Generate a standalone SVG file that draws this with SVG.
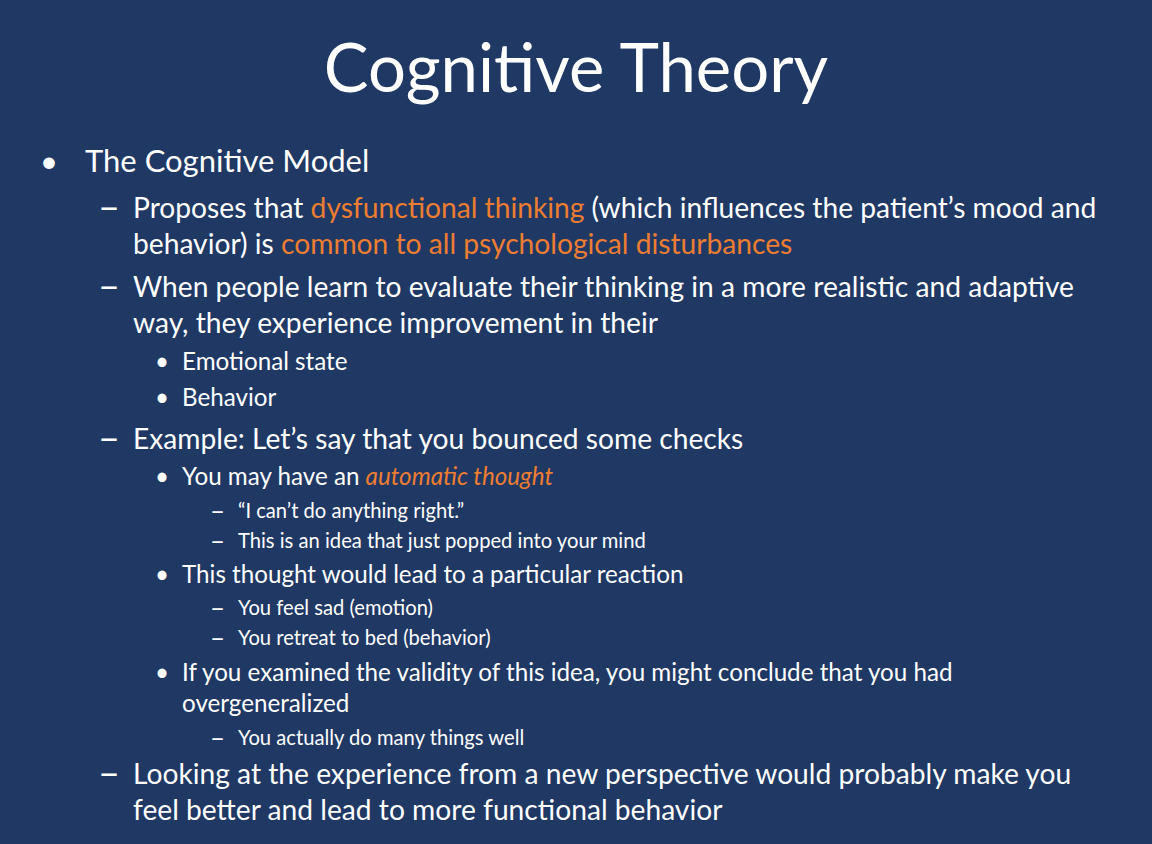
<svg xmlns="http://www.w3.org/2000/svg" width="1152" height="844" viewBox="0 0 1152 844">
<style>
text{font-family:Lato,"Open Sans",sans-serif;fill:#fff}
.t{font-size:67px}
.l1{font-size:31px}
.l2{font-size:28.2px}
.l3{font-size:24.2px}
.l4{font-size:20.2px}
.d2{font-size:38px}
.d4{font-size:26px}
.o{fill:#ED7D31}
</style>
<rect width="1152" height="844" fill="#203864"/>
<text class="t" x="576" y="92" text-anchor="middle">Cognitive Theory</text>
<text class="l1" x="40" y="172">•</text>
<text class="l1" x="85" y="172">The Cognitive Model</text>
<text class="d2" x="98" y="220">–</text>
<text class="l2" x="133" y="218">Proposes that <tspan class="o">dysfunctional thinking</tspan> (which influences the patient’s mood and</text>
<text class="l2" x="133" y="254">behavior) is <tspan class="o">common to all psychological disturbances</tspan></text>
<text class="d2" x="98" y="299">–</text>
<text class="l2" x="133" y="297">When people learn to evaluate their thinking in a more realistic and adaptive</text>
<text class="l2" x="133" y="333">way, they experience improvement in their</text>
<text class="l3" x="155" y="370">•</text>
<text class="l3" x="182" y="370">Emotional state</text>
<text class="l3" x="155" y="406">•</text>
<text class="l3" x="182" y="406">Behavior</text>
<text class="d2" x="98" y="451">–</text>
<text class="l2" x="133" y="449">Example: Let’s say that you bounced some checks</text>
<text class="l3" x="155" y="485">•</text>
<text class="l3" x="182" y="485">You may have an <tspan class="o" font-style="italic">automatic thought</tspan></text>
<text class="d4" x="210" y="520">–</text>
<text class="l4" x="238" y="518">“I can’t do anything right.”</text>
<text class="d4" x="210" y="550">–</text>
<text class="l4" x="238" y="548">This is an idea that just popped into your mind</text>
<text class="l3" x="155" y="583">•</text>
<text class="l3" x="182" y="583">This thought would lead to a particular reaction</text>
<text class="d4" x="210" y="617">–</text>
<text class="l4" x="238" y="615">You feel sad (emotion)</text>
<text class="d4" x="210" y="647">–</text>
<text class="l4" x="238" y="645">You retreat to bed (behavior)</text>
<text class="l3" x="155" y="681">•</text>
<text class="l3" x="182" y="681">If you examined the validity of this idea, you might conclude that you had</text>
<text class="l3" x="182" y="712">overgeneralized</text>
<text class="d4" x="210" y="747">–</text>
<text class="l4" x="238" y="745">You actually do many things well</text>
<text class="d2" x="98" y="786">–</text>
<text class="l2" x="133" y="784">Looking at the experience from a new perspective would probably make you</text>
<text class="l2" x="133" y="820">feel better and lead to more functional behavior</text>
</svg>
